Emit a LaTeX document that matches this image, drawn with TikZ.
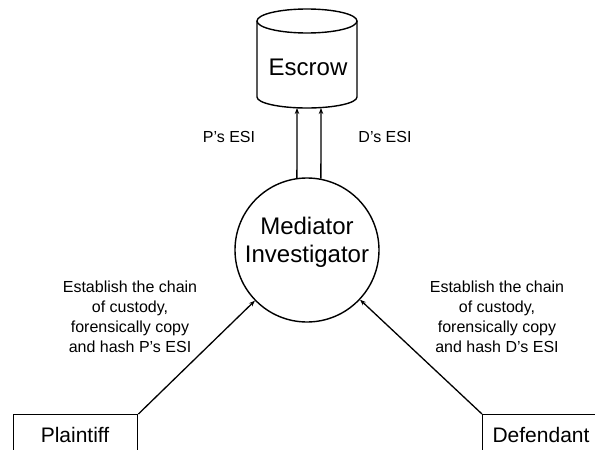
\documentclass[tikz,border=0pt]{standalone}
\usepackage{fontspec}
\setmainfont{Liberation Sans}
\usetikzlibrary{arrows.meta}
\begin{document}
\begin{tikzpicture}[x=1pt,y=-1pt,
  line width=1.4pt,
  arr/.style={-{Stealth[length=6pt,width=4.5pt]}, line width=1.3pt},
  bigtxt/.style={font=\fontsize{24}{28}\selectfont, inner sep=0pt, align=center},
  midtxt/.style={font=\fontsize{21}{25}\selectfont, inner sep=0pt},
  smalltxt/.style={font=\fontsize{16}{20}\selectfont, inner sep=0pt, align=center},
  partybox/.style={draw, rectangle, minimum width=124pt, minimum height=70pt, anchor=north west, inner sep=0pt}]
\useasboundingbox (0,0) rectangle (595,450);
\clip (0,0) rectangle (595,450);
% Escrow cylinder
\draw (257,21) -- (257,97) arc[start angle=180, end angle=0, x radius=50, y radius=11] -- (357,21);
\draw (307,21) ellipse[x radius=50, y radius=12];
\node[bigtxt] (escrow) at (308,67) {Escrow};
\coordinate (tipP) at (297,108);
\coordinate (tipD) at (321,108);
% Mediator
\node[draw, circle, minimum size=144pt, inner sep=0pt] (mediator) at (307,250) {};
\node[bigtxt] (medtxt) at (307,242) {Mediator\\Investigator};
% vertical arrows
\draw[arr] (mediator.98) -- (tipP);
\draw[arr] (mediator.79) -- (tipD);
\node[smalltxt] (pesi) at (229,137) {P’s ESI};
\node[smalltxt] (desi) at (385,137) {D’s ESI};
% parties
\node[partybox] (plaintiff) at (13,414) {};
\node[midtxt] (ptxt) at (75,435) {Plaintiff};
\node[partybox] (defendant) at (482,414) {};
\node[midtxt] (dtxt) at (541,435) {Defendant};
\draw[arr] (plaintiff.north east) -- (mediator);
\draw[arr] (defendant.north west) -- (mediator);
\node[smalltxt] (ptask) at (130,317) {Establish the chain\\of custody,\\forensically copy\\and hash P’s ESI};
\node[smalltxt] (dtask) at (497,317) {Establish the chain\\of custody,\\forensically copy\\and hash D’s ESI};
\end{tikzpicture}
\end{document}
